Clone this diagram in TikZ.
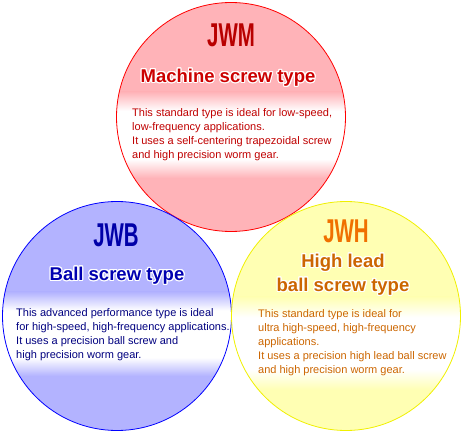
\documentclass[tikz,border=0pt]{standalone}
\usepackage{fontspec}
\setmainfont{Liberation Sans}
\usepackage{graphicx}
\usepackage{contour}
\contourlength{1.1pt}
\definecolor{mfill}{HTML}{FFB3B8}
\definecolor{mline}{HTML}{FF0000}
\definecolor{mcode}{HTML}{B80000}
\definecolor{mtitle}{HTML}{CC0000}
\definecolor{mtext}{HTML}{C00000}
\definecolor{bfill}{HTML}{B3B3FF}
\definecolor{bline}{HTML}{0000FF}
\definecolor{bcode}{HTML}{0000A8}
\definecolor{btitle}{HTML}{0000B0}
\definecolor{btext}{HTML}{000080}
\definecolor{hfill}{HTML}{FFFFB3}
\definecolor{hline}{HTML}{F0F000}
\definecolor{hcode}{HTML}{F07000}
\definecolor{htitle}{HTML}{CC6600}
\definecolor{htext}{HTML}{CC6600}
% the path is mapped onto 25bp..75bp of these shadings
\pgfdeclareverticalshading{mglow}{100bp}{color(0bp)=(mfill); color(25bp)=(mfill); color(36bp)=(white); color(64bp)=(white); color(75bp)=(mfill); color(100bp)=(mfill)}
\pgfdeclareverticalshading{bglow}{100bp}{color(0bp)=(bfill); color(25bp)=(bfill); color(36bp)=(white); color(64bp)=(white); color(75bp)=(bfill); color(100bp)=(bfill)}
\pgfdeclareverticalshading{hglow}{100bp}{color(0bp)=(hfill); color(25bp)=(hfill); color(36bp)=(white); color(64bp)=(white); color(75bp)=(hfill); color(100bp)=(hfill)}
\tikzset{
  disc/.style={circle, minimum size=229pt, inner sep=0pt},
  code/.style={inner sep=0pt, font=\fontsize{33}{33}\selectfont\bfseries},
  kind/.style={inner sep=0pt, align=center, font=\fontsize{18.5}{24}\selectfont\bfseries},
  blurb/.style={inner sep=0pt, anchor=north west, align=left, font=\fontsize{11}{14}\selectfont}
}
\newcommand{\narrow}[1]{\scalebox{0.62}[1]{#1}}

\begin{document}
\begin{tikzpicture}[x=1pt, y=-1pt]
\useasboundingbox (0,0) rectangle (463,438);

\node[disc, fill=mfill] (mdisc) at (231,117) {};
\node[disc, fill=bfill] (bdisc) at (117,316) {};
\node[disc, fill=hfill] (hdisc) at (346,316) {};

\begin{scope}
  \clip (mdisc.center) circle (114.5);
  \shade[shading=mglow] (110,92) rectangle (350,178);
\end{scope}
\begin{scope}
  \clip (bdisc.center) circle (114.5);
  \shade[shading=bglow] (0,292) rectangle (235,376);
\end{scope}
\begin{scope}
  \clip (hdisc.center) circle (114.5);
  \shade[shading=hglow] (228,297) rectangle (463,390);
\end{scope}

\draw[mline, line width=0.8pt] (mdisc.center) circle (114.5);
\draw[bline, line width=0.8pt] (bdisc.center) circle (114.5);
\draw[hline, line width=0.8pt] (hdisc.center) circle (114.5);

\node[code, text=mcode] (jwm) at (231,35) {\narrow{JWM}};
\node[kind, text=mtitle] (mkind) at (228,78) {\contour{white}{Machine screw type}};
\node[blurb, text=mtext] (mblurb) at (132,108) {This standard type is ideal for low-speed,\\low-frequency applications.\\It uses a self-centering trapezoidal screw\\and high precision worm gear.};

\node[code, text=bcode] (jwb) at (116,235) {\narrow{JWB}};
\node[kind, text=btitle] (bkind) at (117,276) {\contour{white}{Ball screw type}};
\node[blurb, text=btext] (bblurb) at (16,308) {This advanced performance type is ideal\\for high-speed, high-frequency applications.\\It uses a precision ball screw and\\high precision worm gear.};

\node[code, text=hcode] (jwh) at (346,231) {\narrow{JWH}};
\node[kind, text=htitle] (hkind) at (343,275) {\contour{white}{High lead}\\\contour{white}{ball screw type}};
\node[blurb, text=htext] (hblurb) at (258,309) {This standard type is ideal for\\ultra high-speed, high-frequency\\applications.\\It uses a precision high lead ball screw\\and high precision worm gear.};

\end{tikzpicture}
\end{document}
